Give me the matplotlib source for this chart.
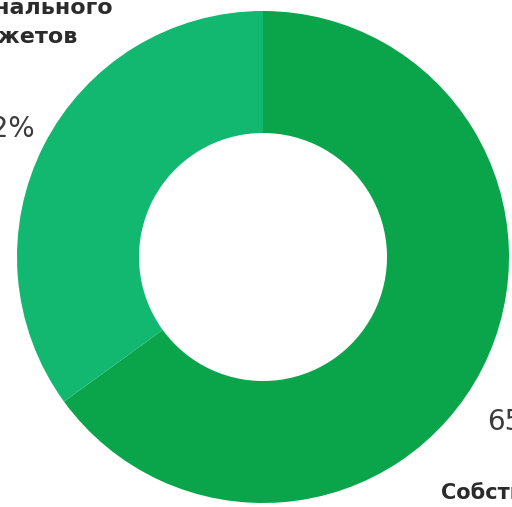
import matplotlib.pyplot as plt

# Chart data (slice sizes, labels read from the text)
shares = [65, 35]
share_labels = ['65%', '32%']
sources = ['Собственные средства', 'Средства регионального\nи местного бюджетов']
colors = ['#0AA54B', '#12B870']

W, H = 512, 507
fig = plt.figure(figsize=(W / 100, H / 100), dpi=100)
ax = fig.add_axes([0, 0, 1, 1])

# Donut, centre and radii in pixels
cx, cy = 263, H - 257
r_out, r_in = 246, 124
ax.pie(shares, colors=colors, startangle=90, counterclock=False,
       center=(cx, cy), radius=r_out,
       wedgeprops=dict(width=r_out - r_in, linewidth=0))

# pie() resets the limits, so set pixel limits afterwards
ax.set_xlim(0, W)
ax.set_ylim(0, H)
ax.set_aspect('equal')
ax.axis('off')

# Percent labels (partly outside the frame, as in the source image)
ax.text(487, H - 422, share_labels[0], ha='left', va='center',
        fontsize=20, color='#3c3c3c')
ax.text(35, H - 129, share_labels[1], ha='right', va='center',
        fontsize=20, color='#3c3c3c')

# Source names
ax.text(441, H - 493, sources[0], ha='left', va='center',
        fontsize=15, fontweight='bold', color='#2b2b2b')
top_lines = sources[1].split('\n')
ax.text(113, H - 8, top_lines[0], ha='right', va='center',
        fontsize=16, fontweight='bold', color='#2b2b2b')
ax.text(77, H - 38, top_lines[1], ha='right', va='center',
        fontsize=16, fontweight='bold', color='#2b2b2b')

plt.savefig('out.png', dpi=100)
